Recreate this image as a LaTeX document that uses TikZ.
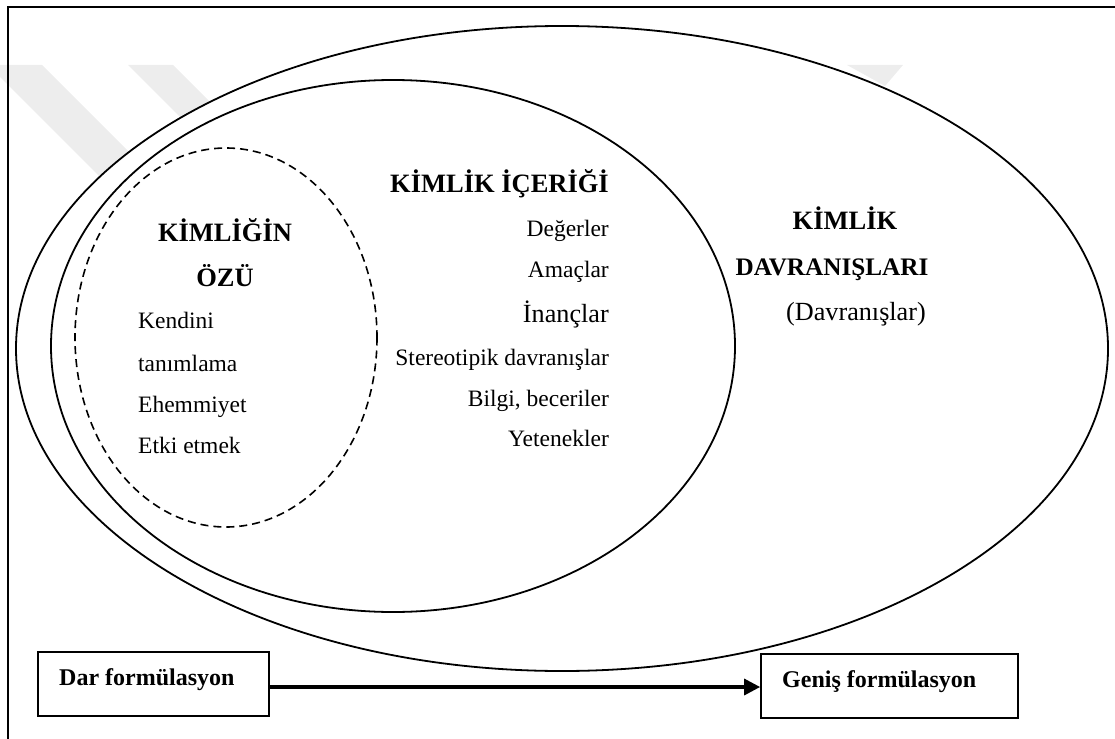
\documentclass[tikz,border=0pt]{standalone}
\usepackage{fontspec}
\setmainfont{Liberation Serif}
\usetikzlibrary{arrows.meta}
\begin{document}
\begin{tikzpicture}[x=1pt,y=-1pt,
  ring/.style={line width=1.8pt},
  core/.style={line width=1.6pt, dash pattern=on 8pt off 5pt},
  head/.style={font=\fontsize{26.5}{30}\selectfont\bfseries, inner sep=0pt},
  item/.style={font=\fontsize{23.5}{28}\selectfont, inner sep=0pt},
  bigitem/.style={font=\fontsize{26.2}{30}\selectfont, inner sep=0pt},
  box/.style={draw, line width=1.7pt, minimum width=231pt, minimum height=64pt, inner sep=0pt},
  boxtext/.style={font=\fontsize{24}{28}\selectfont\bfseries, inner sep=0pt},
  flow/.style={line width=3.3pt, -{Triangle[length=16pt,width=16pt]}},
  band/.style={fill=black!7}
]
\useasboundingbox (0,0) rectangle (1115,738);

% faint background bands
\fill[band] (0,65) -- (42,65) -- (242,265) -- (188,265) -- (0,77) -- cycle;
\fill[band] (128,65) -- (173,65) -- (373,265) -- (328,265) -- cycle;
\fill[band] (847,65) -- (903,65) -- (885,86) -- cycle;

% frame
\draw[line width=2pt] (8,740) -- (8,7.5) -- (1117,7.5);

% nested scopes of identity
\draw[ring, fill=white] (562,348.5) ellipse [x radius=546, y radius=322.5];
\draw[ring] (393,346) ellipse [x radius=342, y radius=266];
\draw[core] (226,337.5) ellipse [x radius=151, y radius=189.5];

% core of identity
\node[head, anchor=base] (coreA) at (225,241) {KİMLİĞİN};
\node[head, anchor=base] (coreB) at (225,286) {ÖZÜ};
\node[item, anchor=base west] (c1) at (138,328) {Kendini};
\node[item, anchor=base west] (c2) at (138,371) {tanımlama};
\node[item, anchor=base west] (c3) at (138,412) {Ehemmiyet};
\node[item, anchor=base west] (c4) at (138,453) {Etki etmek};

% identity content
\node[head, anchor=base east] (cont) at (609,193) {KİMLİK İÇERİĞİ};
\node[item, anchor=base east] (i1) at (609,236) {Değerler};
\node[item, anchor=base east] (i2) at (609,277) {Amaçlar};
\node[bigitem, anchor=base east] (i3) at (609,322) {İnançlar};
\node[item, anchor=base east] (i4) at (609,365) {Stereotipik davranışlar};
\node[item, anchor=base east] (i5) at (609,406) {Bilgi, beceriler};
\node[item, anchor=base east] (i6) at (609,446) {Yetenekler};

% identity behaviours
\node[head, anchor=base] (behA) at (845,229) {KİMLİK};
\node[head, font=\fontsize{25.2}{30}\selectfont\bfseries, anchor=base] (behB) at (832,275) {DAVRANIŞLARI};
\node[bigitem, anchor=base east] (behC) at (926,320) {(Davranışlar)};

% narrow to broad formulation
\node[box] (dar) at (153.5,684) {};
\node[box, minimum width=257pt] (genis) at (889.5,686) {};
\node[boxtext, anchor=base west] (darT) at (59,685) {Dar formülasyon};
\node[boxtext, anchor=base west] (genisT) at (782,687) {Geniş formülasyon};
\draw[flow] ([yshift=-3pt]dar.east) -- ([yshift=-3pt]dar.east -| genis.west);
\end{tikzpicture}
\end{document}
